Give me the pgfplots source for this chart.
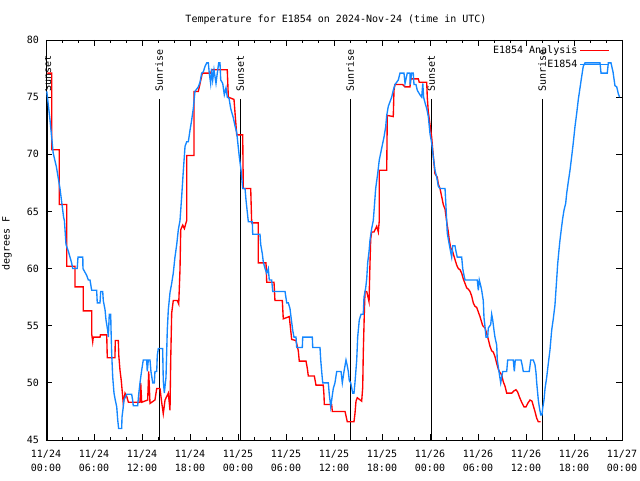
\documentclass[border=0pt]{standalone}
\usepackage{fontspec}
\setmainfont{DejaVu Sans Mono}
\usepackage{pgfplots}
\pgfplotsset{compat=1.18}
\definecolor{obsblue}{RGB}{20,135,255}

\begin{document}
\begin{tikzpicture}
\useasboundingbox (0,0) rectangle (640pt,480pt);
\node at (336pt,460pt) {Temperature for E1854 on 2024-Nov-24 (time in UTC)};
\node[rotate=90] at (7pt,236.5pt) {degrees F};
\begin{axis}[
    at={(46pt,40pt)}, anchor=south west,
    scale only axis,
    width=576pt, height=400pt,
    xmin=0, xmax=72, ymin=45, ymax=80,
    xtick={0,6,...,72},
    minor x tick num=2,
    ytick={45,50,...,80},
    xticklabels={{11/24\\00:00},{11/24\\06:00},{11/24\\12:00},{11/24\\18:00},
                 {11/25\\00:00},{11/25\\06:00},{11/25\\12:00},{11/25\\18:00},
                 {11/26\\00:00},{11/26\\06:00},{11/26\\12:00},{11/26\\18:00},
                 {11/27\\00:00}},
    xticklabel style={align=center, font=\fontsize{10}{13.7}\selectfont, inner sep=0pt, yshift=-10pt},
    yticklabel style={inner sep=0pt, xshift=-7pt},
    /pgf/number format/assume math mode=true,
    tick align=inside, tick pos=both,
    major tick length=6pt, minor tick length=3pt,
    axis line style={line width=0.8pt},
    every tick/.style={black, line width=0.8pt},
    legend style={at={(0.979,0.99)}, anchor=north east, draw=none, fill=none,
        inner sep=0pt, row sep=0.5pt, font=\fontsize{10}{12}\selectfont},
    legend cell align=right,
    legend plot pos=right,
    legend image code/.code={\draw[#1] (0pt,0pt) -- (29pt,0pt);},
]
% sunset / sunrise markers
\addplot[black, line width=0.8pt, forget plot] coordinates {(0.17,74.84) (0.17,45)};
\addplot[black, line width=0.8pt, forget plot] coordinates {(14.15,74.84) (14.15,45)};
\addplot[black, line width=0.8pt, forget plot] coordinates {(24.28,74.84) (24.28,45)};
\addplot[black, line width=0.8pt, forget plot] coordinates {(38.03,74.84) (38.03,45)};
\addplot[black, line width=0.8pt, forget plot] coordinates {(48.15,74.84) (48.15,45)};
\addplot[black, line width=0.8pt, forget plot] coordinates {(62.03,74.84) (62.03,45)};
\node[rotate=90, anchor=west, inner sep=0pt] at (axis cs:0.17,75.45) {Sunset};
\node[rotate=90, anchor=west, inner sep=0pt] at (axis cs:14.15,75.45) {Sunrise};
\node[rotate=90, anchor=west, inner sep=0pt] at (axis cs:24.28,75.45) {Sunset};
\node[rotate=90, anchor=west, inner sep=0pt] at (axis cs:38.03,75.45) {Sunrise};
\node[rotate=90, anchor=west, inner sep=0pt] at (axis cs:48.15,75.45) {Sunset};
\node[rotate=90, anchor=west, inner sep=0pt] at (axis cs:62.03,75.45) {Sunrise};

% analysis
\addplot[red, line width=1.35pt] coordinates {
(0.16,77.1) (0.71,77.1) (0.71,70.4) (1.66,70.4) (1.66,65.6) (2.59,65.6) (2.59,60.2) (3.62,60.2)
(3.62,58.4) (4.66,58.4) (4.66,56.3) (5.71,56.3) (5.71,54.3) (5.84,53.6) (5.91,54.0) (6.75,54.0)
(6.8,54.2) (7.59,54.2) (7.66,52.2) (8.62,52.2) (8.66,53.7) (9.04,53.7) (9.1,52.4) (9.25,51.1)
(9.41,50.2) (9.66,48.2) (9.88,49.1) (10.1,48.8) (10.3,48.3) (11.75,48.3) (11.84,50.0) (11.96,48.3)
(12.71,48.5) (12.84,51.0) (13.0,48.2) (13.62,48.5) (13.84,49.5) (14.25,49.5) (14.46,48.3) (14.66,47.3)
(14.88,48.5) (15.29,49.1) (15.5,47.6) (15.59,52.0) (15.71,56.1) (15.91,57.2) (16.41,57.2) (16.59,56.9)
(16.75,59.9) (16.84,63.4) (17.09,63.8) (17.3,63.5) (17.5,64.0) (17.59,64.2) (17.59,69.9) (18.5,69.9)
(18.5,75.5) (19.04,75.5) (19.54,77.1) (20.59,77.1) (20.71,77.4) (22.66,77.4) (22.79,75.0) (23.5,74.8)
(23.62,73.7) (23.84,71.7) (24.59,71.7) (24.66,67.0) (25.59,67.0) (25.71,64.0) (26.54,64.0) (26.54,60.5)
(27.5,60.5) (27.59,58.8) (28.5,58.8) (28.62,57.2) (29.54,57.2) (29.66,55.6) (30.41,55.8) (30.59,54.6)
(30.71,53.8) (31.25,53.7) (31.54,52.8) (31.66,51.9) (32.5,51.9) (32.66,51.3) (32.79,50.6) (33.54,50.6)
(33.75,49.8) (34.66,49.8) (34.75,48.9) (34.79,48.1) (35.71,48.1) (35.79,47.5) (37.38,47.5) (37.66,46.6)
(38.5,46.6) (38.62,47.3) (38.75,48.4) (38.91,48.7) (39.46,48.4) (39.59,49.6) (39.66,52.6) (39.79,56.1)
(39.88,58.0) (40.09,58.0) (40.38,57.1) (40.5,60.5) (40.59,62.6) (40.71,63.2) (41.0,63.2) (41.34,63.7)
(41.54,63.2) (41.66,64.2) (41.66,68.6) (42.59,68.6) (42.66,73.4) (43.41,73.3) (43.5,75.6) (43.62,76.1)
(44.59,76.1) (44.88,75.9) (45.5,75.9) (45.59,76.6) (46.54,76.6) (46.66,76.3) (47.59,76.3) (47.66,75.0)
(47.79,73.7) (48.0,72.6) (48.21,71.5) (48.34,70.4) (48.5,69.2) (48.62,68.3) (48.91,68.0) (49.04,67.4)
(49.25,67.0) (49.46,66.3) (49.66,65.6) (49.88,65.2) (50.09,64.1) (50.29,63.2) (50.41,62.5) (50.59,61.8)
(50.79,61.6) (50.91,61.3) (51.12,60.8) (51.34,60.3) (51.54,60.0) (51.75,59.9) (51.96,59.6) (52.16,59.1)
(52.38,58.7) (52.59,58.3) (52.79,58.2) (53.0,58.0) (53.21,57.6) (53.41,57.0) (53.62,56.7) (53.84,56.6)
(54.04,56.2) (54.25,55.8) (54.46,55.3) (54.59,55.0) (54.88,54.8) (55.09,54.3) (55.29,53.8) (55.5,53.2)
(55.71,52.8) (55.91,52.7) (56.12,52.3) (56.34,51.7) (56.54,51.2) (56.75,50.9) (56.96,50.7) (57.16,50.1)
(57.38,49.7) (57.59,49.1) (57.79,49.1) (58.21,49.1) (58.5,49.3) (58.75,49.4) (58.96,49.2) (59.16,48.8)
(59.46,48.3) (59.75,47.9) (60.0,47.9) (60.21,48.2) (60.5,48.5) (60.75,48.4) (60.91,48.0) (61.12,47.5)
(61.34,46.9) (61.54,46.6) (61.84,46.6)
};
\addlegendentry{E1854 Analysis}

% observations
\addplot[obsblue, line width=1.35pt] coordinates {
(0.1,75.5) (0.5,73.0) (0.9,70.1) (1.3,68.9) (1.75,67.0) (2.2,64.5) (2.3,64.2) (2.5,62.1)
(2.8,61.5) (3.2,60.5) (3.34,60.0) (3.9,60.0) (4.0,61.0) (4.6,61.0) (4.62,60.0) (5.09,59.4)
(5.29,59.0) (5.5,59.0) (5.71,58.1) (6.33,58.1) (6.41,57.0) (6.75,57.0) (6.84,58.0) (7.09,58.0)
(7.16,57.2) (7.38,56.4) (7.5,55.5) (7.71,54.6) (7.79,54.0) (7.91,56.0) (8.09,56.0) (8.12,54.9)
(8.21,52.6) (8.34,50.5) (8.5,49.1) (8.66,48.5) (8.84,47.9) (8.96,46.8) (9.08,46.0) (9.46,46.0)
(9.5,47.0) (9.66,47.9) (9.75,48.5) (10.08,49.0) (10.71,49.0) (10.83,48.5) (10.91,48.0) (11.46,48.0)
(11.59,49.0) (11.75,50.0) (11.96,51.1) (12.16,52.0) (12.58,52.0) (12.66,51.0) (12.79,52.0) (13.0,52.0)
(13.12,51.0) (13.34,50.0) (13.54,50.0) (13.62,51.0) (13.84,51.0) (13.91,52.4) (14.04,53.0) (14.58,53.0)
(14.66,50.2) (14.79,49.1) (15.0,50.5) (15.16,54.6) (15.29,56.4) (15.5,57.9) (15.71,58.7) (15.91,59.6)
(16.12,61.0) (16.34,62.1) (16.54,63.4) (16.75,64.2) (16.96,66.3) (17.16,68.5) (17.38,70.7) (17.59,71.1)
(17.79,71.1) (18.0,72.1) (18.21,73.0) (18.41,74.0) (18.62,75.5) (19.04,75.9) (19.25,76.3) (19.46,77.1)
(19.66,77.2) (19.88,77.7) (20.09,78.0) (20.29,78.0) (20.41,77.1) (20.58,76.2) (20.71,77.5) (20.84,76.5)
(21.0,77.4) (21.25,76.2) (21.41,77.1) (21.59,78.0) (21.75,78.0) (21.84,76.5) (22.09,76.2) (22.29,75.2)
(22.5,75.8) (22.66,75.0) (22.88,74.9) (23.09,74.0) (23.29,73.5) (23.41,73.2) (23.62,72.5) (23.84,71.9)
(24.16,69.8) (24.38,68.6) (24.59,67.0) (24.88,67.0) (25.0,66.0) (25.29,64.1) (25.79,64.1) (25.84,63.0)
(26.75,63.0) (26.84,62.1) (27.04,61.3) (27.16,60.6) (27.38,60.0) (27.59,59.6) (27.79,60.0) (27.91,59.0)
(28.21,59.0) (28.34,58.0) (29.88,58.0) (30.09,57.0) (30.29,57.0) (30.5,56.5) (30.62,55.8) (30.84,54.6)
(31.0,54.0) (31.25,54.0) (31.34,53.1) (32.04,53.1) (32.09,54.0) (33.29,54.0) (33.34,53.1) (34.25,53.1)
(34.34,52.0) (34.46,51.0) (34.59,50.0) (35.29,50.0) (35.41,49.0) (35.59,47.9) (35.71,48.5) (35.91,49.5)
(36.12,50.0) (36.34,51.0) (36.88,51.0) (37.04,50.0) (37.25,51.0) (37.5,52.0) (37.66,51.5) (37.79,51.0)
(37.91,50.2) (38.09,50.0) (38.34,49.1) (38.5,49.1) (38.62,50.0) (38.84,52.0) (38.96,54.0) (39.16,55.5)
(39.38,56.0) (39.66,56.0) (39.75,57.5) (39.96,58.3) (40.09,59.1) (40.21,60.5) (40.38,61.5) (40.5,62.5)
(40.71,63.5) (40.91,64.2) (41.0,65.0) (41.21,67.0) (41.46,68.3) (41.66,69.5) (42.04,70.8) (42.25,71.5)
(42.46,72.4) (42.59,73.4) (42.79,74.2) (43.21,75.0) (43.41,75.6) (43.62,76.1) (44.04,76.5) (44.25,77.1)
(44.75,77.1) (44.88,76.2) (45.16,77.1) (45.5,77.1) (45.52,76.1) (45.71,77.1) (45.91,77.1) (46.0,76.1)
(46.25,76.1) (46.41,75.6) (46.75,75.2) (46.96,75.0) (47.1,76.2) (47.2,75.0) (47.38,74.5) (47.59,74.0)
(47.79,73.3) (48.0,71.8) (48.21,71.0) (48.41,69.8) (48.62,68.6) (48.84,68.0) (49.04,67.2) (49.25,67.0)
(49.88,67.0) (50.0,65.4) (50.16,63.1) (50.41,62.1) (50.71,61.0) (50.84,62.0) (51.12,62.0) (51.25,61.5)
(51.41,61.0) (51.96,61.0) (52.09,60.0) (52.25,59.4) (52.38,59.0) (53.91,59.0) (54.04,58.1) (54.16,59.0)
(54.34,58.5) (54.46,58.1) (54.66,57.2) (54.75,55.7) (54.88,54.9) (55.0,54.0) (55.21,54.0) (55.29,54.8)
(55.59,55.1) (55.71,56.0) (55.84,55.5) (56.0,54.6) (56.12,54.0) (56.34,53.3) (56.41,52.0) (56.62,51.0)
(56.84,50.0) (56.96,50.5) (57.09,51.0) (57.59,51.0) (57.71,52.0) (58.41,52.0) (58.54,51.0) (58.66,52.0)
(59.38,52.0) (59.54,51.5) (59.66,51.0) (60.41,51.0) (60.59,52.0) (60.91,52.0) (61.12,51.6) (61.25,50.9)
(61.34,50.0) (61.54,48.5) (61.66,47.9) (61.84,47.2) (62.0,47.2) (62.09,47.8) (62.25,48.5) (62.38,49.5)
(62.59,50.5) (62.79,51.7) (63.0,52.9) (63.21,54.6) (63.41,55.6) (63.62,56.8) (63.84,59.1) (63.96,60.4)
(64.12,61.6) (64.25,62.5) (64.46,63.7) (64.59,64.4) (64.75,65.1) (64.96,65.7) (65.09,66.6) (65.29,67.6)
(65.5,68.6) (65.71,69.8) (65.91,71.0) (66.12,72.4) (66.34,73.6) (66.54,74.8) (66.75,75.8) (66.96,76.8)
(67.16,77.7) (67.38,78.0) (69.25,78.0) (69.38,77.1) (70.16,77.1) (70.29,78.0) (70.62,78.0) (70.88,77.2)
(71.12,76.0) (71.34,75.9) (71.54,75.3) (71.7,75.0)
};
\addlegendentry{E1854}
\end{axis}
\end{tikzpicture}
\end{document}
